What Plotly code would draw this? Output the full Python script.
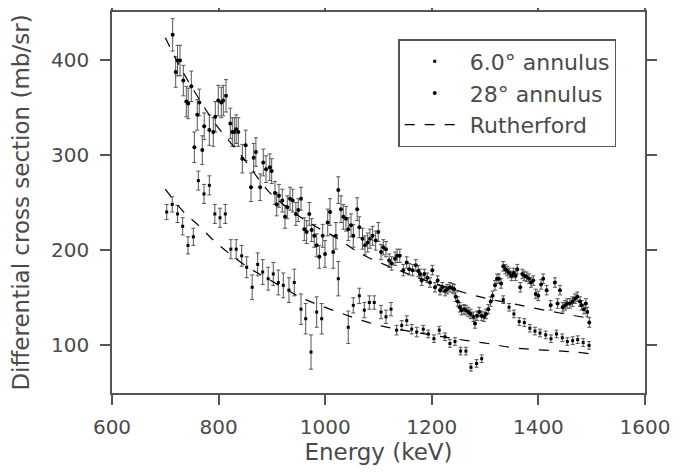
import plotly.graph_objects as go

# 28 deg annulus (upper band) - energy (keV), cross section (mb/sr), error
e_28 = [713.8, 719.5, 723, 727.6, 733.8, 739.4, 743, 748.8, 754.5, 760, 763.8, 769.4, 773, 782.6,
        790, 793.8, 799.4, 805, 808.8, 813.9, 822, 825.7, 829.5, 833, 837, 844.5, 850.8, 860.8,
        865.8, 870, 878, 883.8, 889, 896, 899.6, 905.8, 909, 913.3, 919.5, 924.6, 928.9, 934,
        939, 945, 949.5, 954.6, 960.8, 965.2, 970.2, 974.6, 979.5, 984, 989, 995.3, 999.6,
        1004.7, 1009, 1015, 1020, 1024.6, 1029.6, 1034, 1039, 1043.3, 1048.4, 1052.7, 1060,
        1064, 1070, 1074.7, 1079.7, 1084, 1089, 1094.7, 1099.6, 1104.7, 1109, 1114, 1120,
        1124.7, 1131, 1135, 1140, 1146.5, 1152.9, 1157.8, 1164, 1170, 1174.7, 1178, 1181,
        1186, 1191.6, 1196.6, 1201, 1206, 1211, 1215.4, 1219.7, 1224.8, 1229, 1234, 1238.5,
        1242, 1244.8, 1248.6, 1252.3, 1256, 1260.4, 1264, 1268.5, 1273, 1278, 1281, 1284.8,
        1289, 1293.6, 1298, 1301.7, 1306, 1310.5, 1314, 1318.6, 1322.3, 1326, 1330, 1334,
        1338, 1341.7, 1345.4, 1349.8, 1353.6, 1357.4, 1360.4, 1366, 1369.8, 1373.6, 1378,
        1382.4, 1386, 1390.4, 1395, 1399.8, 1405, 1409, 1415.5, 1423, 1431, 1436, 1440.5,
        1445.6, 1450, 1454, 1459, 1464, 1468.6, 1473, 1478, 1481, 1485.5, 1489, 1491.7, 1495.5]
xs_28 = [426, 387, 399, 399, 378, 356, 354, 372, 308, 342, 355, 305, 330, 326,
         324, 340, 357, 355, 357, 362, 333, 324, 324, 327, 324, 296, 310, 266,
         297, 303, 266, 292, 285, 287, 283, 260, 248, 257, 252, 235, 245, 254,
         252, 238, 242, 254, 222, 219, 238, 221, 215, 205, 193, 215, 196,
         229, 240, 198, 215, 263, 243, 235, 233, 222, 226, 215, 243,
         224, 212, 205, 208, 212, 215, 210, 219, 198, 203, 201, 189,
         186, 191, 194, 194, 179, 187, 180, 179, 184, 178, 175, 168,
         175, 171, 166, 179, 161, 168, 158, 161, 157, 159, 161, 160,
         159, 151, 146, 140, 137, 138, 137, 135, 133, 130, 123, 131,
         135, 131, 130, 133, 138, 146, 152, 163, 170, 170, 165, 183,
         180, 178, 176, 173, 176, 173, 180, 161, 175, 173, 172,
         170, 166, 168, 154, 152, 164, 170, 158, 142, 166, 144, 158,
         140, 142, 144, 144, 146, 149, 151, 146, 142, 138, 144, 135, 124]
err_28 = [17, 16, 16, 16, 16, 16, 16, 16, 16, 16, 14, 15, 14, 16,
          15, 16, 16, 16, 16, 17, 16, 15, 15, 15, 15, 15, 16, 15,
          15, 15, 14, 14, 14, 14, 13, 12, 12, 12, 12, 12, 12, 12,
          12, 12, 12, 12, 12, 12, 12, 12, 12, 12, 12, 12, 14,
          14, 14, 17, 14, 14, 14, 13, 13, 12, 12, 12, 12,
          11, 11, 10, 10, 10, 10, 10, 10, 8, 8, 8, 7,
          7, 7, 7, 7, 6, 6, 6, 6, 6, 6, 5, 5,
          5, 5, 5, 5, 5, 5, 5, 5, 5, 5, 5, 5,
          5, 5, 5, 5, 5, 5, 5, 5, 5, 5, 5, 5,
          5, 5, 5, 5, 5, 5, 5, 5, 5, 5, 5, 5,
          5, 5, 5, 5, 5, 5, 5, 5, 5, 5, 5,
          5, 5, 5, 5, 5, 5, 5, 5, 5, 5, 5, 5,
          5, 5, 5, 5, 5, 5, 5, 5, 5, 5, 5, 5, 5]

# 6.0 deg annulus (lower band)
e_6 = [702.6, 713, 723, 732.6, 742.6, 752.6, 762, 772.6, 782.6, 793, 802.6, 812.6, 823, 833,
       843.3, 852.7, 863, 873.3, 882.7, 893, 902.6, 912, 921.4, 932, 942, 954.6, 963.4, 973.4,
       984, 993.4, 1024.6, 1043.3, 1052.7, 1064, 1073.4, 1082.8, 1092, 1104.7, 1114, 1123.5,
       1134, 1143.5, 1153, 1162.3, 1171.7, 1184, 1193.4, 1204, 1214, 1224.8, 1234, 1243.5,
       1254, 1264, 1273.5, 1284, 1293.6, 1334, 1345, 1354, 1364, 1373.6, 1384, 1393.6, 1403,
       1413.7, 1423.6, 1434, 1444.8, 1454.3, 1464.3, 1473.7, 1484, 1495]
xs_6 = [240, 248, 238, 225, 205, 214, 273, 259, 268, 238, 234, 238, 201, 201,
        194, 182, 161, 185, 177, 170, 175, 166, 163, 158, 166, 138, 128, 93,
        135, 128, 170, 119, 142, 152, 137, 145, 145, 135, 130, 138,
        116, 121, 126, 117, 114, 117, 112, 107, 116, 109, 102, 104,
        94, 94, 77, 81, 86, 148, 140, 133, 125, 124, 118, 115, 113,
        111, 107, 112, 108, 104, 105, 106, 103, 100]
err_6 = [8, 8, 9, 9, 9, 9, 10, 10, 10, 10, 10, 10, 10, 10,
         11, 11, 13, 12, 13, 12, 12, 13, 13, 13, 14, 16, 16, 18,
         16, 16, 18, 17, 8, 8, 8, 7, 7, 7, 7, 7,
         5, 5, 5, 5, 5, 4, 4, 4, 4, 4, 4, 4,
         4, 4, 4, 4, 4, 4, 4, 4, 4, 4, 4, 4, 4,
         4, 4, 4, 4, 4, 4, 4, 4, 4]

# Rutherford curves
ruth_e_hi = [700, 730, 762, 796, 850, 880, 900, 940, 978, 1024, 1053, 1078, 1115, 1160,
             1200, 1269, 1305, 1350, 1384, 1440, 1500]
ruth_hi = [423, 390, 360, 331, 294, 271, 258, 240, 226, 212, 201, 193, 184, 174,
           166, 154, 149, 144, 140, 134, 128]
ruth_e_lo = [700, 733, 764, 791, 821, 855, 886, 959, 995, 1034, 1070, 1109, 1266, 1305,
             1346, 1384, 1469, 1500]
ruth_lo = [264, 241, 225, 210, 196, 182, 172, 149, 141, 133, 126, 120, 105, 102,
           98, 96, 93, 91]

INK = "#4a4a4a"
AXIS = "#555555"

fig = go.Figure()

fig.add_trace(go.Scatter(
    x=e_6, y=xs_6, mode="markers", name="6.0° annulus",
    marker=dict(symbol="square", size=3, color="black"),
    error_y=dict(type="data", array=err_6, color="#555555", thickness=1, width=2),
))
fig.add_trace(go.Scatter(
    x=e_28, y=xs_28, mode="markers", name="28° annulus",
    marker=dict(symbol="circle", size=4, color="black"),
    error_y=dict(type="data", array=err_28, color="#555555", thickness=1, width=2),
))
fig.add_trace(go.Scatter(
    x=ruth_e_hi, y=ruth_hi, mode="lines", name="Rutherford",
    line=dict(color="black", width=1.2, dash="10px,10px", shape="spline"),
))
fig.add_trace(go.Scatter(
    x=ruth_e_lo, y=ruth_lo, mode="lines", name="Rutherford", showlegend=False,
    line=dict(color="black", width=1.2, dash="10px,10px", shape="spline"),
))

axis_style = dict(
    showline=True, linecolor=AXIS, linewidth=1.5, mirror="ticks",
    ticks="outside", ticklen=10, tickwidth=1.5, tickcolor=AXIS,
    showgrid=False, zeroline=False, automargin=False,
    tickfont=dict(family="DejaVu Sans", size=20, color=INK),
)

# the page body adds an 8px offset, so the figure is 8px smaller
fig.update_layout(
    width=677, height=464,
    margin=dict(l=104, r=40, t=4, b=79),
    plot_bgcolor="white", paper_bgcolor="white",
    font=dict(family="DejaVu Sans", size=20, color=INK),
    showlegend=True,
    legend=dict(
        x=0.537, y=0.929, xanchor="left", yanchor="top",
        bordercolor=AXIS, borderwidth=1.5, bgcolor="white",
        font=dict(size=22), itemwidth=60,
    ),
)
fig.update_xaxes(range=[600, 1600], tickvals=[600, 800, 1000, 1200, 1400, 1600],
                 ticklabelstandoff=5,
                 title=dict(text="Energy (keV)", standoff=6, font=dict(size=23)),
                 **axis_style)
fig.update_yaxes(range=[50, 450], tickvals=[100, 200, 300, 400],
                 ticklabelstandoff=7,
                 title=dict(text="Differential cross section (mb/sr)", standoff=17,
                            font=dict(size=23)),
                 **axis_style)

fig.write_html("out.html")
